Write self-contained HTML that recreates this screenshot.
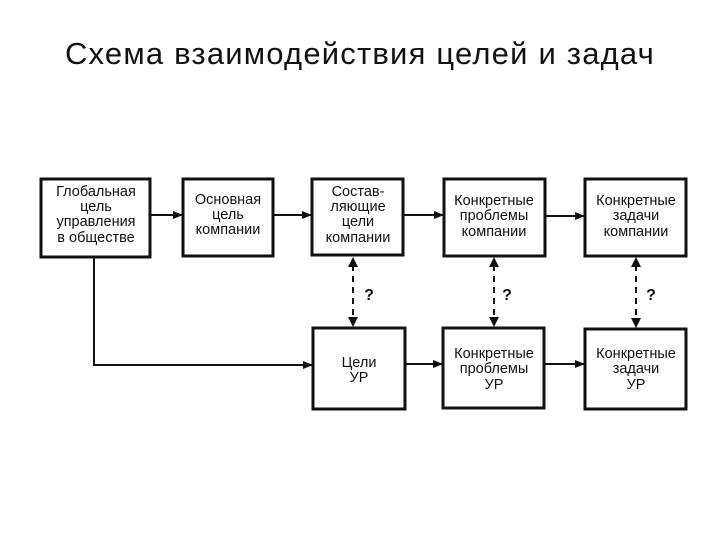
<!DOCTYPE html>
<html><head><meta charset="utf-8"><style>
body{margin:0;background:#fff;width:720px;height:540px;overflow:hidden;font-family:"Liberation Sans",sans-serif}
.t{position:absolute;top:36px;left:0;width:720px;text-align:center;font-size:31px;letter-spacing:1.2px;color:#111}
</style></head><body>
<div class="t">Схема взаимодействия целей и задач</div>
<svg width="720" height="540" style="position:absolute;left:0;top:0" font-family="Liberation Sans, sans-serif" font-size="14.5" text-anchor="middle" fill="#111">
<defs><marker id="a" markerWidth="10" markerHeight="8" refX="9" refY="4" orient="auto" markerUnits="userSpaceOnUse"><path d="M0,0L10,4L0,8z" fill="#111"/></marker></defs>
<g fill="none" stroke="#111" stroke-width="3">
<rect x="41" y="179" width="109" height="78"/>
<rect x="183" y="179" width="90" height="77"/>
<rect x="312" y="179" width="91" height="76"/>
<rect x="444" y="179" width="101" height="77"/>
<rect x="585" y="179" width="101" height="77"/>
<rect x="313" y="328" width="92" height="81"/>
<rect x="443" y="328" width="101" height="80"/>
<rect x="585" y="329" width="101" height="80"/>
</g>
<g stroke="#111" stroke-width="2" fill="none">
<line x1="150" y1="215" x2="182" y2="215" marker-end="url(#a)"/>
<line x1="273" y1="215" x2="311" y2="215" marker-end="url(#a)"/>
<line x1="403" y1="215" x2="443" y2="215" marker-end="url(#a)"/>
<line x1="545" y1="216" x2="584" y2="216" marker-end="url(#a)"/>
<polyline points="94,257 94,365 312,365" marker-end="url(#a)"/>
<line x1="405" y1="364" x2="442" y2="364" marker-end="url(#a)"/>
<line x1="544" y1="364" x2="584" y2="364" marker-end="url(#a)"/>
<g stroke-dasharray="6,5">
<line x1="353" y1="265" x2="353" y2="318"/>
<line x1="494" y1="265" x2="494" y2="318"/>
<line x1="636" y1="265" x2="636" y2="319"/>
</g>
</g>
<g fill="#111">
<path d="M353,257l-5,10h10z M353,327l-5,-10h10z"/>
<path d="M494,257l-5,10h10z M494,327l-5,-10h10z"/>
<path d="M636,257l-5,10h10z M636,328l-5,-10h10z"/>
</g>
<g font-weight="bold" font-size="16">
<text x="369" y="300">?</text><text x="507" y="300">?</text><text x="651" y="300">?</text>
</g>
<text x="96" y="196">Глобальная</text><text x="96" y="211">цель</text><text x="96" y="226">управления</text><text x="96" y="242">в обществе</text>
<text x="228" y="204">Основная</text><text x="228" y="219">цель</text><text x="228" y="234">компании</text>
<text x="358" y="196">Состав-</text><text x="358" y="211">ляющие</text><text x="358" y="226">цели</text><text x="358" y="242">компании</text>
<text x="494" y="205">Конкретные</text><text x="494" y="220">проблемы</text><text x="494" y="236">компании</text>
<text x="636" y="205">Конкретные</text><text x="636" y="220">задачи</text><text x="636" y="236">компании</text>
<text x="359" y="367">Цели</text><text x="359" y="382">УР</text>
<text x="494" y="358">Конкретные</text><text x="494" y="373">проблемы</text><text x="494" y="389">УР</text>
<text x="636" y="358">Конкретные</text><text x="636" y="373">задачи</text><text x="636" y="389">УР</text>
</svg>
</body></html>
